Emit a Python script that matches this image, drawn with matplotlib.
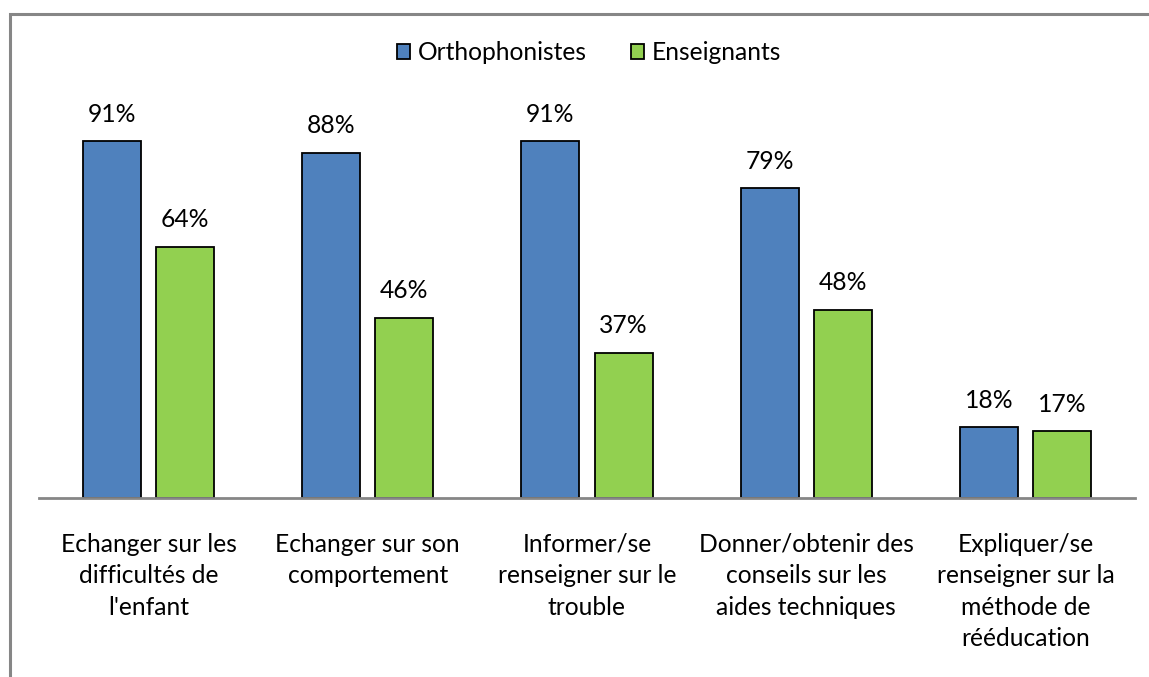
import matplotlib.pyplot as plt
from matplotlib.patches import Rectangle
import numpy as np

categories = ["Echanger sur les\ndifficultés de\nl'enfant",
              "Echanger sur son\ncomportement",
              "Informer/se\nrenseigner sur le\ntrouble",
              "Donner/obtenir des\nconseils sur les\naides techniques",
              "Expliquer/se\nrenseigner sur la\nméthode de\nrééducation"]
ortho = [91, 88, 91, 79, 18]
ens = [64, 46, 37, 48, 17]
series_names = ["Orthophonistes", "Enseignants"]

plt.rcParams['font.family'] = ['Lato', 'DejaVu Sans']
FS = 17.7

W, H = 1149, 677
fig = plt.figure(figsize=(W / 100, H / 100), dpi=100)

# outer chart frame (only left and top visible in the crop)
fig.patches.append(Rectangle((9.5 / W, -0.1), 1.2, 1 - 13.5 / H + 0.1,
                             transform=fig.transFigure, fill=False,
                             edgecolor='#868686', linewidth=2.2))

ax = fig.add_axes([39 / W, 179 / H, 1096 / W, 392 / H])
x = np.arange(len(categories))
w = 0.265
off = 0.167
b1 = ax.bar(x - off, [v / 100 for v in ortho], w, color='#4F81BD',
            edgecolor='black', linewidth=1.3, label=series_names[0], zorder=2)
b2 = ax.bar(x + off, [v / 100 for v in ens], w, color='#92D050',
            edgecolor='black', linewidth=1.3, label=series_names[1], zorder=2)

for bars, vals in ((b1, ortho), (b2, ens)):
    for r, v in zip(bars, vals):
        ax.text(r.get_x() + r.get_width() / 2, r.get_height() + 0.04,
                f"{v}%", ha='center', va='bottom', fontsize=FS)

ax.set_xlim(-0.5, len(categories) - 0.5)
ax.set_ylim(0, 1)
for s in ('top', 'right', 'left'):
    ax.spines[s].set_visible(False)
ax.spines['bottom'].set_color('#868686')
ax.spines['bottom'].set_linewidth(2)
ax.set_yticks([])
ax.set_xticks(x)
ax.set_xticklabels(categories, fontsize=FS, linespacing=1.45)
ax.tick_params(axis='x', length=0, pad=25)

fig.legend(handles=[b1, b2], loc='center', bbox_to_anchor=(589 / W, 1 - 53 / H),
           ncol=2, frameon=False, fontsize=FS, handlelength=0.55,
           handleheight=0.55, handletextpad=0.3, columnspacing=1.8)

fig.savefig('out.png', dpi=100)
